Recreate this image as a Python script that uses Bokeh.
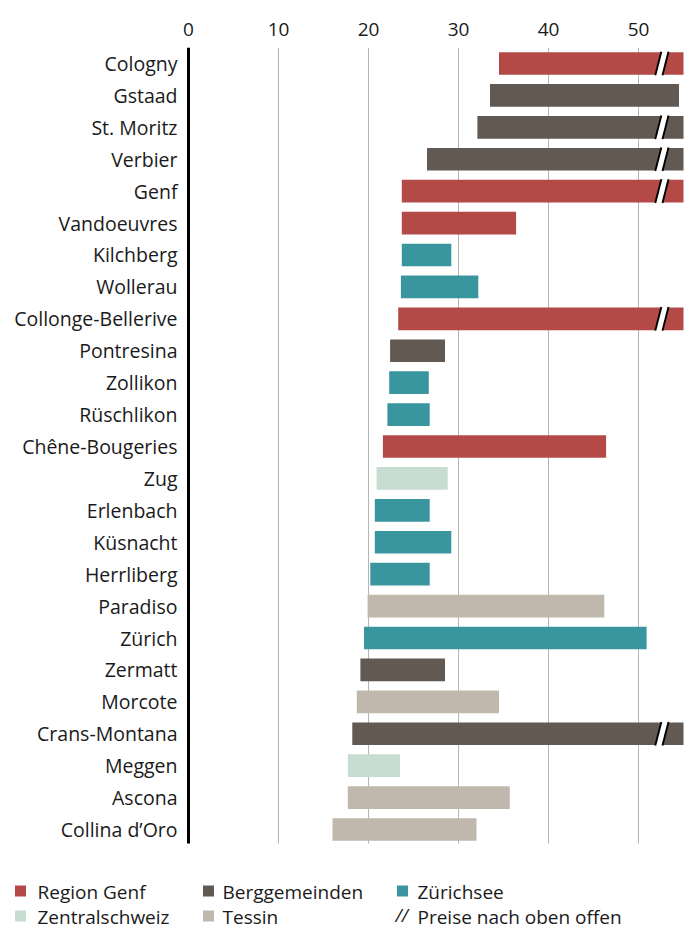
from bokeh.plotting import figure
from bokeh.models import Range1d, FixedTicker, ColumnDataSource
from bokeh.embed import file_html
from bokeh.resources import INLINE
from bokeh.core.properties import value

# ---------------- data ----------------
names = ["Cologny", "Gstaad", "St. Moritz", "Verbier", "Genf", "Vandoeuvres",
         "Kilchberg", "Wollerau", "Collonge-Bellerive", "Pontresina", "Zollikon",
         "Rüschlikon", "Chêne-Bougeries", "Zug", "Erlenbach", "Küsnacht",
         "Herrliberg", "Paradiso", "Zürich", "Zermatt", "Morcote",
         "Crans-Montana", "Meggen", "Ascona", "Collina d’Oro"]
lows = [34.5, 33.5, 32.1, 26.5, 23.7, 23.7, 23.7, 23.6, 23.3, 22.4, 22.3, 22.1,
        21.6, 20.9, 20.7, 20.7, 20.2, 19.9, 19.5, 19.1, 18.7, 18.2, 17.7, 17.7, 16.0]
# None = prices open upwards
highs = [None, 54.5, None, None, None, 36.4, 29.2, 32.2, None, 28.5, 26.7, 26.8,
         46.4, 28.8, 26.8, 29.2, 26.8, 46.2, 50.9, 28.5, 34.5, None, 23.5, 35.7, 32.0]
regions = ["Region Genf", "Berggemeinden", "Berggemeinden", "Berggemeinden",
           "Region Genf", "Region Genf", "Zürichsee", "Zürichsee", "Region Genf",
           "Berggemeinden", "Zürichsee", "Zürichsee", "Region Genf", "Zentralschweiz",
           "Zürichsee", "Zürichsee", "Zürichsee", "Tessin", "Zürichsee",
           "Berggemeinden", "Tessin", "Berggemeinden", "Zentralschweiz", "Tessin", "Tessin"]
x_ticks = [0, 10, 20, 30, 40, 50]
legend_labels = ["Region Genf", "Berggemeinden", "Zürichsee", "Zentralschweiz", "Tessin"]
open_label = "Preise nach oben offen"

# ---------------- style / layout ----------------
X_MAX = 55
BREAK_AT = 52.6
FONT = "Open Sans"
FS = "19px"
FS_CAT = "19.5px"
TXT = "#1a1a1a"
colors = {
    "Region Genf": "#b34a48",
    "Berggemeinden": "#625953",
    "Zürichsee": "#3a969e",
    "Zentralschweiz": "#c7ddd2",
    "Tessin": "#c0b7ad",
}
W, H = 689, 929
TOP = 47                 # frame top in px
ZERO_PX = 188            # pixel of x = 0
PX_PER_X = 9.0
PX_PER_ROW = 31.92


def px_x(px):
    return (px - ZERO_PX) / PX_PER_X


def px_y(py):
    return (py - TOP) / PX_PER_ROW - 0.5


n = len(names)
rows = list(range(n))
rights = [X_MAX if h is None else h for h in highs]
src = ColumnDataSource(dict(y=rows, left=lows, right=rights,
                            color=[colors[r] for r in regions]))

p = figure(width=W, height=H,
           x_range=Range1d(px_x(0), px_x(W)),
           y_range=Range1d(px_y(H), -0.5),
           x_axis_location="above", y_axis_location=None,
           output_backend="svg", toolbar_location=None,
           min_border_left=0, min_border_right=0, min_border_top=TOP,
           min_border_bottom=0)
p.outline_line_color = None
p.grid.visible = False

y_bottom = n - 0.5 - 0.06

# grid lines
p.segment(x0=x_ticks[1:], y0=[-0.5] * 5, x1=x_ticks[1:], y1=[y_bottom] * 5,
          line_color="#b5b5b5", line_width=1)

# bars
p.hbar(y="y", left="left", right="right", height=0.71, fill_color="color",
       line_color=None, source=src)

# axis line at 0
p.segment(x0=[0], y0=[-0.5], x1=[0], y1=[y_bottom], line_color="black",
          line_width=3)

# break marks
half = 0.37
slant = 0.67
gap = 0.4
bx, by, seg = [], [], dict(x0=[], y0=[], x1=[], y1=[])
for i, h in enumerate(highs):
    if h is None:
        xb0 = BREAK_AT - slant / 2
        xt0 = BREAK_AT + slant / 2
        bx.append([xb0 - gap, xb0 + gap, xt0 + gap, xt0 - gap])
        by.append([i + half, i + half, i - half, i - half])
        for d in (-gap, gap):
            seg["x0"].append(xb0 + d)
            seg["y0"].append(i + half)
            seg["x1"].append(xt0 + d)
            seg["y1"].append(i - half)
p.patches(bx, by, fill_color="white", line_color=None)
p.segment(x0="x0", y0="y0", x1="x1", y1="y1", source=ColumnDataSource(seg),
          line_color="black", line_width=1.9)

# category labels
p.text(x=[px_x(177)] * n, y=rows, text=names, text_font=value(FONT),
       text_font_size=FS_CAT, text_color=TXT, text_align="right",
       text_baseline="middle")

# x axis (top)
xa = p.xaxis[0]
xa.ticker = FixedTicker(ticks=x_ticks)
xa.axis_line_color = None
xa.major_tick_line_color = None
xa.minor_tick_line_color = None
xa.major_tick_in = 0
xa.major_tick_out = 0
xa.major_label_standoff = 12
xa.major_label_text_font = FONT
xa.major_label_text_font_size = FS
xa.major_label_text_color = TXT

# ---------------- legend ----------------
col_sq = [20, 208, 402]
col_tx = [37, 222, 417]
row_px = [891, 916]
sq_x, sq_y, sq_c, tx_x, tx_y, tx_t = [], [], [], [], [], []
for k, lab in enumerate(legend_labels):
    r, c = divmod(k, 3)
    sq_x.append(px_x(col_sq[c])); sq_y.append(px_y(row_px[r] - 0.5)); sq_c.append(colors[lab])
    tx_x.append(px_x(col_tx[c])); tx_y.append(px_y(row_px[r])); tx_t.append(lab)
p.rect(sq_x, sq_y, width=11, height=11, width_units="screen",
       height_units="screen", fill_color=sq_c, line_color=None)
tx_x.append(px_x(col_tx[2])); tx_y.append(px_y(row_px[1])); tx_t.append(open_label)
p.text(tx_x, tx_y, text=tx_t, text_font=value(FONT), text_font_size=FS,
       text_color=TXT, text_baseline="middle", text_align="left")
p.text([px_x(395)], [px_y(row_px[1] - 2)], text=["//"], text_font=value(FONT),
       text_font_size="18px", text_color=TXT, text_baseline="middle",
       text_align="left", text_font_style="italic")

open("out.html", "w").write(file_html(p, INLINE))
